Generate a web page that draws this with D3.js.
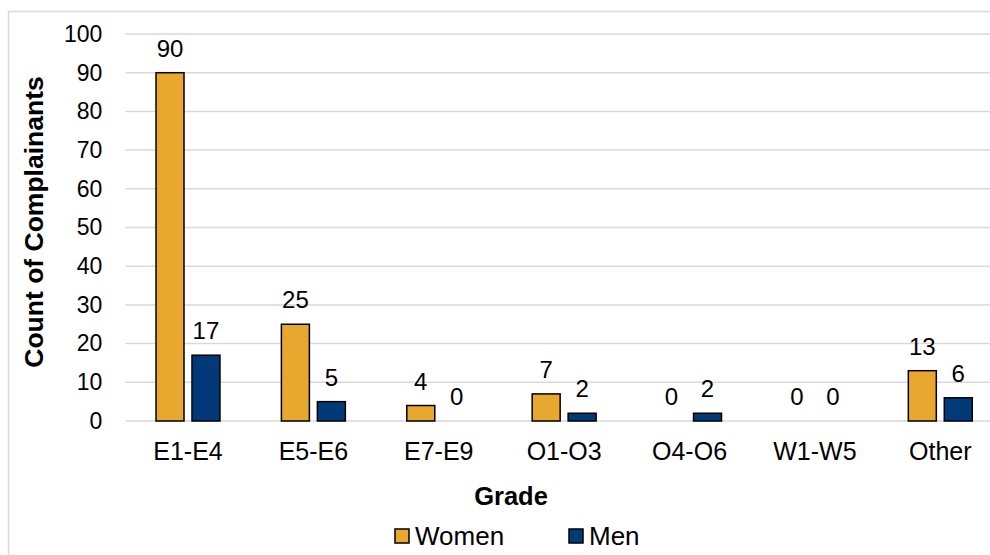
<!DOCTYPE html>
<html>
<head>
<meta charset="utf-8">
<script src="https://cdn.jsdelivr.net/npm/d3@7"></script>
<style>
  body { margin: 0; background: #fff; }
  text { font-family: "Liberation Sans", Arial, sans-serif; fill: #000; }
</style>
</head>
<body>
<div id="chart"></div>
<script>
// data
var grades = ["E1-E4", "E5-E6", "E7-E9", "O1-O3", "O4-O6", "W1-W5", "Other"];
var series = ["Women", "Men"];
var women = [90, 25, 4, 7, 0, 0, 13];
var men = [17, 5, 0, 2, 2, 0, 6];
var yTicks = [0, 10, 20, 30, 40, 50, 60, 70, 80, 90, 100];

var colors = { Women: "#E8A72E", Men: "#003A78" };

var svgWidth = 990;
var svgHeight = 555;

// plot area
var plot = { left: 125.3, right: 1003, top: 34, bottom: 421 };

var svg = d3.select("#chart")
    .append("svg")
    .attr("width", svgWidth)
    .attr("height", svgHeight);

// outer chart border (runs past the right/bottom edges)
svg.append("rect")
    .attr("x", 8.5)
    .attr("y", 11.5)
    .attr("width", 1100)
    .attr("height", 600)
    .attr("fill", "none")
    .attr("stroke", "#d9d9d9")
    .attr("stroke-width", 1.5);

var rows = grades.map(function(g, i) {
    return { grade: g, Women: women[i], Men: men[i] };
});

// scales
var x0 = d3.scaleBand()
    .domain(grades)
    .range([plot.left, plot.right])
    .paddingInner(0.49)
    .paddingOuter(0.245);

var x1 = d3.scaleBand()
    .domain(series)
    .range([0, x0.bandwidth()])
    .paddingInner(0.222);

var y = d3.scaleLinear()
    .domain([0, 100])
    .range([plot.bottom, plot.top]);

// gridlines
svg.append("g")
    .selectAll("line")
    .data(yTicks)
    .enter()
    .append("line")
    .attr("x1", plot.left)
    .attr("x2", plot.right)
    .attr("y1", d => y(d))
    .attr("y2", d => y(d))
    .attr("stroke", "#d9d9d9")
    .attr("stroke-width", 1.5);

// y axis
var leftAxis = d3.axisLeft(y).tickValues(yTicks).tickSize(0).tickPadding(23);
var yAxisG = svg.append("g")
    .attr("transform", `translate(${plot.left}, 0)`)
    .call(leftAxis);
yAxisG.select(".domain").remove();
yAxisG.selectAll("text")
    .attr("font-size", 23)
    .attr("font-family", "Liberation Sans, Arial, sans-serif");

// x axis
var bottomAxis = d3.axisBottom(x0).tickSize(0).tickPadding(21);
var xAxisG = svg.append("g")
    .attr("transform", `translate(0, ${plot.bottom})`)
    .call(bottomAxis);
xAxisG.select(".domain").remove();
xAxisG.selectAll("text")
    .attr("font-size", 25)
    .attr("font-family", "Liberation Sans, Arial, sans-serif");

// bars
var groups = svg.append("g")
    .selectAll("g")
    .data(rows)
    .enter()
    .append("g")
    .attr("transform", d => `translate(${x0(d.grade)}, 0)`);

groups.selectAll("rect")
    .data(d => series.map(s => ({ key: s, value: d[s] })))
    .enter()
    .filter(d => d.value > 0)
    .append("rect")
    .attr("x", d => x1(d.key))
    .attr("y", d => y(d.value))
    .attr("width", x1.bandwidth())
    .attr("height", d => y(0) - y(d.value))
    .attr("fill", d => colors[d.key])
    .attr("stroke", "#000")
    .attr("stroke-width", 1.5);

// value labels
groups.selectAll("text.val")
    .data(d => series.map(s => ({ key: s, value: d[s] })))
    .enter()
    .append("text")
    .attr("class", "val")
    .attr("x", d => x1(d.key) + x1.bandwidth() / 2)
    .attr("y", d => y(d.value) - 16)
    .attr("text-anchor", "middle")
    .attr("font-size", 24)
    .text(d => d.value);

// axis titles
svg.append("text")
    .attr("transform", `translate(43, 222) rotate(-90)`)
    .attr("text-anchor", "middle")
    .attr("font-size", 26.5)
    .attr("font-weight", "bold")
    .text("Count of Complainants");

svg.append("text")
    .attr("x", 511)
    .attr("y", 505)
    .attr("text-anchor", "middle")
    .attr("font-size", 25.5)
    .attr("font-weight", "bold")
    .text("Grade");

// legend
var legendItems = [
    { key: "Women", x: 395 },
    { key: "Men", x: 569 }
];
var legend = svg.append("g")
    .selectAll("g")
    .data(legendItems)
    .enter()
    .append("g")
    .attr("transform", d => `translate(${d.x}, 529)`);

legend.append("rect")
    .attr("width", 14)
    .attr("height", 14)
    .attr("fill", d => colors[d.key])
    .attr("stroke", "#000")
    .attr("stroke-width", 1.5);

legend.append("text")
    .attr("x", 20)
    .attr("y", 15.5)
    .attr("font-size", 26)
    .text(d => d.key);
</script>
</body>
</html>
